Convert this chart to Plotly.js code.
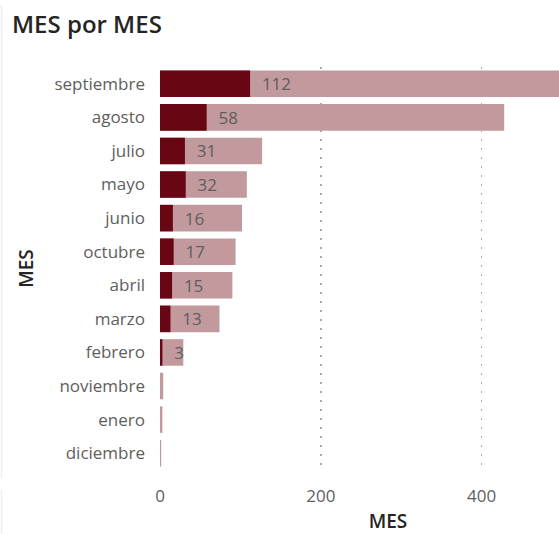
<!DOCTYPE html>
<html>
<head>
<meta charset="utf-8">
<script src="https://cdn.plot.ly/plotly-3.0.1.min.js"></script>
<style>
html,body{margin:0;padding:0;overflow:hidden;background:#fff;width:559px;height:534px;}
#chart{width:620px;height:534px;}
</style>
</head>
<body>
<div id="chart"></div>
<script>
const months = ["septiembre","agosto","julio","mayo","junio","octubre","abril","marzo","febrero","noviembre","enero","diciembre"];
const darkValues = [112,58,31,32,16,17,15,13,3,0,0,0];
const lightValues = [560,428,127,108,102,94,90,74,29,4,3,1.5];
const xTicks = [0,200,400];

const labelFont = {family:"Open Sans, sans-serif", size:17, color:"#605E5C"};
const axisTitleFont = {family:"Open Sans, sans-serif", size:19, color:"#252423", weight:600};

const traces = [
  {
    type:"bar", orientation:"h", y:months, x:lightValues,
    marker:{color:"#C2999D"}, hoverinfo:"skip", showlegend:false
  },
  {
    type:"bar", orientation:"h", y:months, x:darkValues,
    marker:{color:"#680713"},
    text: darkValues.map(v => v > 0 ? "  " + v : ""),
    textposition:"outside", constraintext:"none", cliponaxis:false,
    textfont:labelFont, showlegend:false
  }
];

// plot area: x 160..616 px, y 67..470 px
const px = v => (v - 160) / 456;
const py = v => (470 - v) / 403;

const layout = {
  width:620, height:534,
  margin:{l:160, r:4, t:67, b:64},
  paper_bgcolor:"#fff", plot_bgcolor:"#fff",
  barmode:"overlay", bargap:0.21,
  title:{text:"MES por MES", x:12/620, xref:"container", xanchor:"left", y:0.953, yanchor:"middle",
         font:{family:"Open Sans, sans-serif", size:24, color:"#252423", weight:600}},
  xaxis:{range:[0,567], tickvals:xTicks, showgrid:true, gridcolor:"#ABABAB", griddash:"1.5px,7.5px", gridwidth:1.3,
         zeroline:false, showline:false, tickfont:labelFont, ticks:"", ticklabelstandoff:14,
         title:{text:"MES", font:axisTitleFont, standoff:15}},
  yaxis:{type:"category", categoryorder:"array", categoryarray:months, autorange:"reversed",
         showgrid:false, zeroline:false, showline:false, ticks:"", ticklabelstandoff:14,
         tickfont:labelFont,
         title:{text:"MES", font:axisTitleFont, standoff:15}},
  shapes:[
    {type:"line", xref:"paper", yref:"paper", x0:px(1.5), x1:px(1.5), y0:py(5), y1:py(478),
     line:{color:"#EDEDED", width:1.5}},
    {type:"line", xref:"paper", yref:"paper", x0:px(1.5), x1:px(1.5), y0:py(490), y1:py(534),
     line:{color:"#EDEDED", width:1.5}}
  ],
  font:{family:"Open Sans, sans-serif"}
};

Plotly.newPlot("chart", traces, layout, {displayModeBar:false, staticPlot:true});
</script>
</body>
</html>
